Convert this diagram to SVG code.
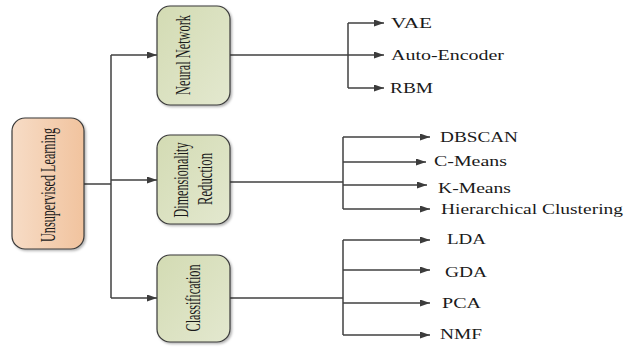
<svg xmlns="http://www.w3.org/2000/svg" width="629" height="347" viewBox="0 0 629 347">
  <defs>
    <linearGradient id="gOrange" x1="0" y1="0" x2="1" y2="0">
      <stop offset="0" stop-color="#f7dcc6"/>
      <stop offset="1" stop-color="#f1c39e"/>
    </linearGradient>
    <linearGradient id="gGreen" x1="0" y1="0" x2="1" y2="1">
      <stop offset="0" stop-color="#d3dbb3"/>
      <stop offset="1" stop-color="#e3e8cf"/>
    </linearGradient>
    <filter id="shadow" x="-10%" y="-10%" width="130%" height="130%">
      <feDropShadow dx="1.5" dy="1.5" stdDeviation="1" flood-color="#000" flood-opacity="0.3"/>
    </filter>
    <marker id="arrow" markerUnits="userSpaceOnUse" markerWidth="11" markerHeight="8" refX="10" refY="3.5" orient="auto">
      <path d="M0,0 L10,3.5 L0,7 Z" fill="#3c3c3c"/>
    </marker>
  </defs>
  <style>
    .box { stroke: #3a3a3a; stroke-width: 1.2; filter: url(#shadow); }
    .btxt { font-family: "Liberation Serif", "Times New Roman", serif; font-size: 21px; fill: #1a1a1a; text-anchor: middle; }
    .ltxt { font-family: "Liberation Serif", "Times New Roman", serif; font-size: 14px; fill: #1a1a1a; }
    .wire { stroke: #404040; stroke-width: 1.5; fill: none; }
    .arr { stroke: #404040; stroke-width: 1.5; fill: none; marker-end: url(#arrow); }
  </style>

  <!-- connectors -->
  <g id="connectors">
    <line class="wire" x1="84" y1="184" x2="111" y2="184"/>
    <line class="wire" x1="111" y1="55" x2="111" y2="298"/>
    <line class="arr" x1="111" y1="55" x2="157" y2="55"/>
    <line class="arr" x1="111" y1="180" x2="157" y2="180"/>
    <line class="arr" x1="111" y1="298" x2="157" y2="298"/>

    <!-- neural network branches -->
    <line class="arr" x1="230" y1="55" x2="384" y2="55"/>
    <line class="wire" x1="348" y1="23" x2="348" y2="88"/>
    <line class="arr" x1="348" y1="23" x2="384" y2="23"/>
    <line class="arr" x1="348" y1="88" x2="384" y2="88"/>

    <!-- dimensionality reduction branches -->
    <line class="wire" x1="230" y1="182" x2="343" y2="182"/>
    <line class="wire" x1="343" y1="137" x2="343" y2="209"/>
    <line class="arr" x1="343" y1="137" x2="430" y2="137"/>
    <line class="arr" x1="343" y1="162" x2="426" y2="162"/>
    <line class="arr" x1="343" y1="185" x2="427" y2="185"/>
    <line class="arr" x1="343" y1="209" x2="430" y2="209"/>

    <!-- classification branches -->
    <line class="wire" x1="230" y1="298" x2="343" y2="298"/>
    <line class="wire" x1="343" y1="240" x2="343" y2="335"/>
    <line class="arr" x1="343" y1="240" x2="430" y2="240"/>
    <line class="arr" x1="343" y1="270" x2="430" y2="270"/>
    <line class="arr" x1="343" y1="303" x2="430" y2="303"/>
    <line class="arr" x1="343" y1="335" x2="430" y2="335"/>
  </g>

  <g id="unsupervised">
    <rect class="box" x="12" y="118" width="72" height="131" rx="13" fill="url(#gOrange)"/>
    <text class="btxt" transform="translate(55,185) rotate(-90)" textLength="114" lengthAdjust="spacingAndGlyphs">Unsupervised Learning</text>
  </g>

  <g id="neural-network">
    <rect class="box" x="157" y="6" width="73" height="99" rx="13" fill="url(#gGreen)"/>
    <text class="btxt" transform="translate(190,55) rotate(-90)" textLength="80" lengthAdjust="spacingAndGlyphs">Neural Network</text>
  </g>

  <g id="dimensionality">
    <rect class="box" x="157" y="135" width="73" height="89" rx="13" fill="url(#gGreen)"/>
    <text class="btxt" transform="translate(188,180) rotate(-90)" textLength="75" lengthAdjust="spacingAndGlyphs">Dimensionality</text>
    <text class="btxt" transform="translate(212,179) rotate(-90)" textLength="52" lengthAdjust="spacingAndGlyphs">Reduction</text>
  </g>

  <g id="classification">
    <rect class="box" x="157" y="255" width="73" height="87" rx="13" fill="url(#gGreen)"/>
    <text class="btxt" transform="translate(200,298) rotate(-90)" textLength="67" lengthAdjust="spacingAndGlyphs">Classification</text>
  </g>

  <g id="leaves">
    <text class="ltxt" x="391" y="28" textLength="41" lengthAdjust="spacingAndGlyphs">VAE</text>
    <text class="ltxt" x="391" y="60" textLength="113" lengthAdjust="spacingAndGlyphs">Auto-Encoder</text>
    <text class="ltxt" x="390" y="93" textLength="43" lengthAdjust="spacingAndGlyphs">RBM</text>

    <text class="ltxt" x="440" y="142" textLength="78" lengthAdjust="spacingAndGlyphs">DBSCAN</text>
    <text class="ltxt" x="434" y="166" textLength="73" lengthAdjust="spacingAndGlyphs">C-Means</text>
    <text class="ltxt" x="438" y="193" textLength="73" lengthAdjust="spacingAndGlyphs">K-Means</text>
    <text class="ltxt" x="441" y="214" textLength="182" lengthAdjust="spacingAndGlyphs">Hierarchical Clustering</text>

    <text class="ltxt" x="447" y="244" textLength="39" lengthAdjust="spacingAndGlyphs">LDA</text>
    <text class="ltxt" x="445" y="277" textLength="42" lengthAdjust="spacingAndGlyphs">GDA</text>
    <text class="ltxt" x="442" y="308" textLength="39" lengthAdjust="spacingAndGlyphs">PCA</text>
    <text class="ltxt" x="440" y="339" textLength="42" lengthAdjust="spacingAndGlyphs">NMF</text>
  </g>
</svg>
